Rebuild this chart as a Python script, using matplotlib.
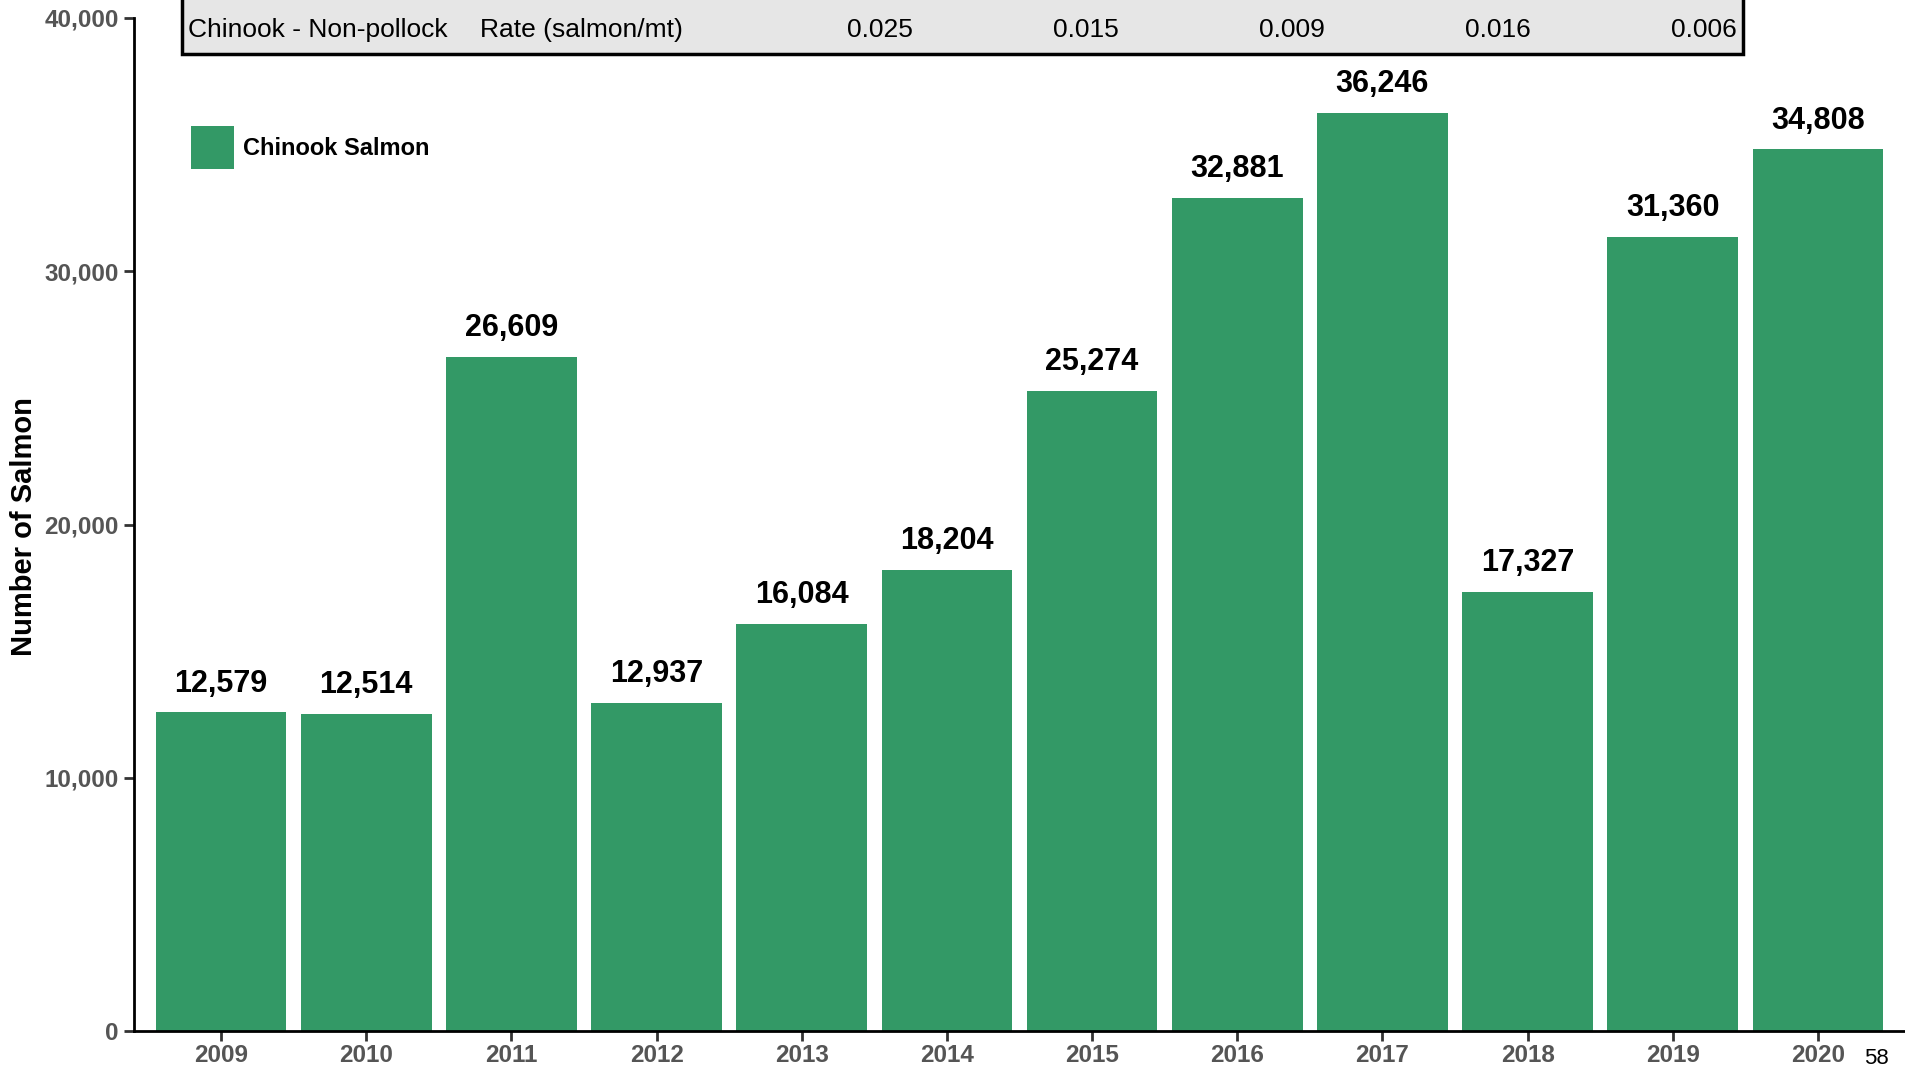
import matplotlib.pyplot as plt
from matplotlib.patches import Rectangle

years = ["2009", "2010", "2011", "2012", "2013", "2014",
         "2015", "2016", "2017", "2018", "2019", "2020"]
chinook = [12579, 12514, 26609, 12937, 16084, 18204,
           25274, 32881, 36246, 17327, 31360, 34808]

table_title = "Chinook - Non-pollock"
table_metric = "Rate (salmon/mt)"
table_rates = ["0.025", "0.015", "0.009", "0.016", "0.006"]

W, H = 1905, 1069
GREEN = "#339966"
GRAY = "#555555"

plt.rcParams["font.family"] = ["Liberation Sans", "DejaVu Sans"]

fig = plt.figure(figsize=(W / 100, H / 100), dpi=100)


def fx(px):
    return px / W


def fy(py):
    return 1 - py / H


# axes from x=134px to the right edge, y=18px (40k) to 1031px (0)
ax = fig.add_axes([fx(134), fy(1031), 1 - fx(134), fy(18) - fy(1031)])

x = range(len(years))
ax.bar(x, chinook, width=0.9, color=GREEN, label="Chinook Salmon")

for xi, v in zip(x, chinook):
    ax.annotate(f"{v:,}", (xi, v), xytext=(0, 10), textcoords="offset points",
                ha="center", va="bottom", fontsize=22, fontweight="bold")

ax.set_xlim(-0.6, 11.6)
ax.set_ylim(0, 40000)
yt = [0, 10000, 20000, 30000, 40000]
ax.set_yticks(yt)
ax.set_yticklabels([f"{t:,}" for t in yt])
ax.set_xticks(list(x))
ax.set_xticklabels(years)

for lab in ax.get_xticklabels() + ax.get_yticklabels():
    lab.set_fontweight("bold")
    lab.set_color(GRAY)
ax.tick_params(axis="both", labelsize=17.5, length=7, width=2, color="#333333")
ax.tick_params(axis="x", pad=2)
ax.tick_params(axis="y", pad=4)

for s in ["top", "right"]:
    ax.spines[s].set_visible(False)
for s in ["left", "bottom"]:
    ax.spines[s].set_linewidth(2)
    ax.spines[s].set_color("black")

fig.text(fx(24), fy(527), "Number of Salmon", rotation=90, ha="center",
         va="center", fontsize=21, fontweight="bold")

# legend square top-left at (191,126)px
ax.legend(loc="upper left", bbox_to_anchor=(fx(191), fy(126)),
          bbox_transform=fig.transFigure, frameon=False,
          prop={"weight": "bold", "size": 17}, handlelength=1.8,
          handleheight=2.4, handletextpad=0.4, borderpad=0, borderaxespad=0)

# rate table box at top
box = Rectangle((fx(182), fy(54)), fx(1743) - fx(182), fy(-5) - fy(54),
                transform=fig.transFigure, facecolor="#e6e6e6",
                edgecolor="black", linewidth=2.5, zorder=5, clip_on=False)
fig.add_artist(box)
fig.text(fx(188), fy(30), table_title, ha="left", va="center", fontsize=19,
         zorder=6)
fig.text(fx(480), fy(30), table_metric, ha="left", va="center", fontsize=19,
         zorder=6)
for px, r in zip([880, 1086, 1292, 1498, 1704], table_rates):
    fig.text(fx(px), fy(30), r, ha="center", va="center", fontsize=19, zorder=6)

fig.text(fx(1876), fy(1059), "58", ha="center", va="center", fontsize=16)

fig.savefig("out.png", dpi=100)
